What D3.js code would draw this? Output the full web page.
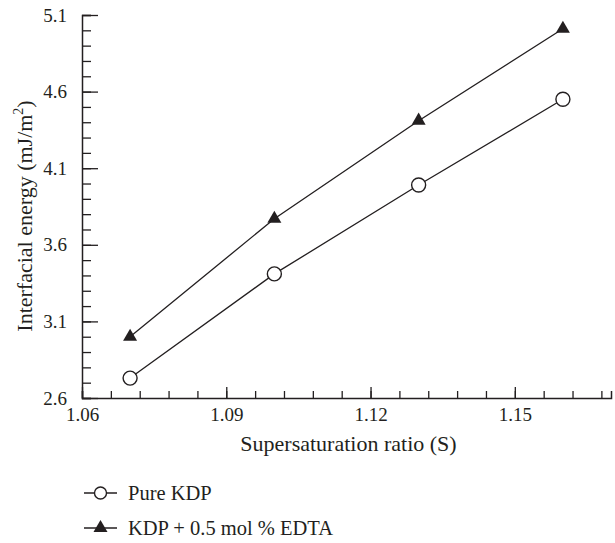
<!DOCTYPE html>
<html>
<head>
<meta charset="utf-8">
<script src="https://cdn.jsdelivr.net/npm/d3@7"></script>
<style>
  html, body { margin: 0; padding: 0; background: #fff; }
</style>
</head>
<body>
<svg id="chart" width="615" height="543"></svg>
<script>
// ---- data ----
const ratios = [1.07, 1.10, 1.13, 1.16];
const pureKDP = [2.73, 3.41, 3.99, 4.55];
const kdpEDTA = [3.00, 3.77, 4.41, 5.01];
const seriesNames = ["Pure KDP", "KDP + 0.5 mol % EDTA"];
const xTickLabels = ["1.06", "1.09", "1.12", "1.15"];
const yTickLabels = ["2.6", "3.1", "3.6", "4.1", "4.6", "5.1"];
const xTitle = "Supersaturation ratio (S)";
const yTitle = "Interfacial energy (mJ/m";

// ---- layout ----
const FONT = "Liberation Serif";
const svg = d3.select("#chart").attr("font-family", FONT);
const mLeft = 82, mRight = 611, mTop = 15, mBottom = 398;
const ink = "#231f20";

const x = d3.scaleLinear().domain([1.06, 1.17]).range([mLeft, mRight]);
const y = d3.scaleLinear().domain([2.6, 5.1]).range([mBottom, mTop]);

const xMinor = d3.range(0, 19).map(i => +(1.06 + i * 0.006).toFixed(3));
const xMajor = xTickLabels.map(Number);
const yMinor = d3.range(0, 26).map(i => +(2.6 + i * 0.1).toFixed(2));
const yMajor = yTickLabels.map(Number);

function styleAxis(g) {
  g.attr("font-family", FONT);
  g.select(".domain").attr("stroke", ink).attr("stroke-width", 1.5);
  g.selectAll(".tick line").attr("stroke", ink).attr("stroke-width", 1.3);
  g.selectAll(".tick text").attr("font-size", 19).attr("fill", ink)
    .attr("font-family", FONT);
}

// x axis minor
svg.append("g").attr("transform", `translate(0,${mBottom})`)
  .call(d3.axisBottom(x).tickValues(xMinor).tickSize(-7).tickFormat(""))
  .call(styleAxis);
// x axis major with labels
svg.append("g").attr("transform", `translate(0,${mBottom})`)
  .call(d3.axisBottom(x).tickValues(xMajor).tickSize(-11).tickPadding(10)
    .tickFormat((d, i) => xTickLabels[i]))
  .call(styleAxis)
  .call(g => g.select(".domain").remove());

// y axis minor
svg.append("g").attr("transform", `translate(${mLeft},0)`)
  .call(d3.axisLeft(y).tickValues(yMinor).tickSize(-9).tickFormat(""))
  .call(styleAxis);
// y axis major
svg.append("g").attr("transform", `translate(${mLeft},0)`)
  .call(d3.axisLeft(y).tickValues(yMajor).tickSize(-16).tickPadding(15)
    .tickFormat((d, i) => yTickLabels[i]))
  .call(styleAxis)
  .call(g => g.select(".domain").remove());

// axis titles
svg.append("text")
  .attr("x", (mLeft + mRight) / 2 + 2).attr("y", 451)
  .attr("text-anchor", "middle").attr("font-size", 22)
  .attr("font-family", FONT).attr("fill", ink)
  .text(xTitle);

const yt = svg.append("text")
  .attr("transform", "translate(32,216) rotate(-90)")
  .attr("text-anchor", "middle").attr("font-size", 22)
  .attr("font-family", FONT).attr("fill", ink);
yt.append("tspan").text(yTitle);
yt.append("tspan").attr("font-size", 14).attr("dy", -9).text("2");
yt.append("tspan").attr("dy", 9).text(")");

// lines
const line = d3.line().x((d, i) => x(ratios[i])).y(d => y(d));
[kdpEDTA, pureKDP].forEach(s => {
  svg.append("path").datum(s).attr("d", line)
    .attr("fill", "none").attr("stroke", ink).attr("stroke-width", 1.3);
});

const tri = d3.symbol().type(d3.symbolTriangle).size(85);

// markers
svg.append("g").selectAll("circle").data(pureKDP).join("circle")
  .attr("cx", (d, i) => x(ratios[i])).attr("cy", d => y(d)).attr("r", 7)
  .attr("fill", "#fff").attr("stroke", ink).attr("stroke-width", 1.4);

svg.append("g").selectAll("path").data(kdpEDTA).join("path")
  .attr("d", tri)
  .attr("transform", (d, i) => `translate(${x(ratios[i])},${y(d)})`)
  .attr("fill", ink);

// legend
const legY = [493, 528];
legY.forEach((ly, k) => {
  svg.append("line").attr("x1", 84).attr("x2", 117).attr("y1", ly).attr("y2", ly)
    .attr("stroke", ink).attr("stroke-width", 1.3);
  if (k === 0) {
    svg.append("circle").attr("cx", 100.5).attr("cy", ly).attr("r", 6)
      .attr("fill", "#fff").attr("stroke", ink).attr("stroke-width", 1.4);
  } else {
    svg.append("path").attr("d", tri).attr("transform", `translate(100.5,${ly})`).attr("fill", ink);
  }
  svg.append("text").attr("x", 128).attr("y", ly + 7).attr("font-size", 20.5)
    .attr("font-family", FONT).attr("fill", ink)
    .text(seriesNames[k]);
});
</script>
</body>
</html>
